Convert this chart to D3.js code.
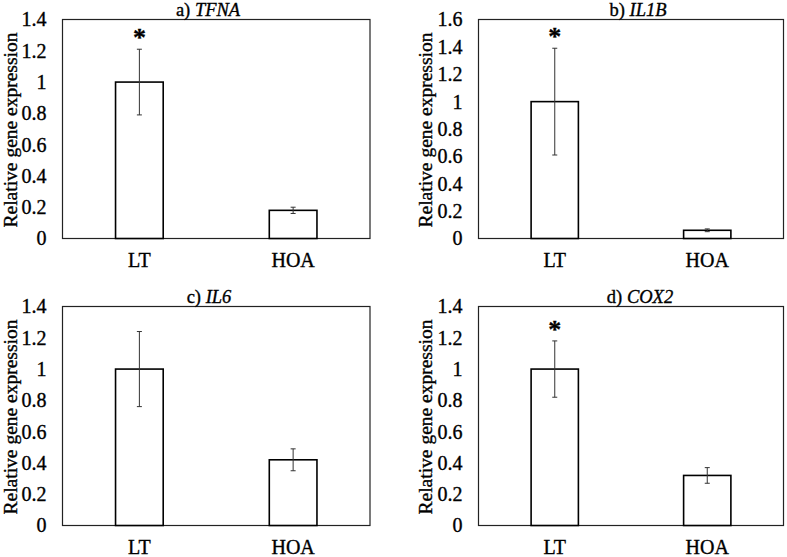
<!DOCTYPE html>
<html>
<head>
<meta charset="utf-8">
<script src="https://cdn.jsdelivr.net/npm/d3@7"></script>
<style>
  html, body { margin: 0; padding: 0; background: #fff; }
  svg { display: block; }
  svg text { font-family: "Liberation Serif", "Times New Roman", Times, "DejaVu Serif", serif; fill: #000; stroke: #000; stroke-width: 0.35px; }
</style>
</head>
<body>
<svg id="chart" width="787" height="557"></svg>
<script>
// ---- Data ----
const categories = ["LT", "HOA"];
const panelLetters = ["a)", "b)", "c)", "d)"];
const geneNames = ["TFNA", "IL1B", "IL6", "COX2"];
const tfnaMeans = [1, 0.18];
const tfnaErrors = [0.21, 0.02];
const il1bMeans = [1, 0.06];
const il1bErrors = [0.39, 0.01];
const il6Means = [1, 0.42];
const il6Errors = [0.24, 0.07];
const cox2Means = [1, 0.32];
const cox2Errors = [0.18, 0.05];
const yMaxes = [1.4, 1.6, 1.4, 1.4];
const ticks14 = [0, 0.2, 0.4, 0.6, 0.8, 1, 1.2, 1.4];
const ticks16 = [0, 0.2, 0.4, 0.6, 0.8, 1, 1.2, 1.4, 1.6];
const significant = [[true, false], [true, false], [false, false], [true, false]];
const yAxisTitle = "Relative gene expression";

const panelMeans = [tfnaMeans, il1bMeans, il6Means, cox2Means];
const panelErrors = [tfnaErrors, il1bErrors, il6Errors, cox2Errors];
const panelTicks = [ticks14, ticks16, ticks14, ticks14];

// ---- Layout ----
const frames = [
  { x0: 62.5, x1: 370, y0: 19.5, y1: 238.5, titleX: 208, yTitleX: 10 },
  { x0: 478.5, x1: 783.5, y0: 19.5, y1: 238.5, titleX: 638, yTitleX: 425 },
  { x0: 62.5, x1: 370, y0: 306.5, y1: 525.5, titleX: 209, yTitleX: 10 },
  { x0: 478.5, x1: 783.5, y0: 306.5, y1: 525.5, titleX: 640, yTitleX: 425 }
];

const svg = d3.select("#chart");
const fontSize = 20;
const serif = '"Liberation Serif", "Times New Roman", Times, "DejaVu Serif", serif';

frames.forEach((f, i) => {
  const g = svg.append("g");
  const x = d3.scaleBand().domain(categories).range([f.x0, f.x1]).paddingInner(0.69).paddingOuter(0.345);
  const y = d3.scaleLinear().domain([0, yMaxes[i]]).range([f.y1, f.y0]);

  const data = categories.map((c, k) => ({ c, v: panelMeans[i][k], e: panelErrors[i][k], s: significant[i][k] }));

  // frame
  g.append("rect")
    .attr("x", f.x0).attr("y", f.y0)
    .attr("width", f.x1 - f.x0).attr("height", f.y1 - f.y0)
    .attr("fill", "none").attr("stroke", "#222").attr("stroke-width", 1.2);

  // bars
  g.selectAll("rect.bar").data(data).enter().append("rect")
    .attr("class", "bar")
    .attr("x", d => x(d.c))
    .attr("y", d => y(d.v))
    .attr("width", x.bandwidth())
    .attr("height", d => y(0) - y(d.v))
    .attr("fill", "#fff").attr("stroke", "#000").attr("stroke-width", 1.6);

  // error bars
  const eg = g.selectAll("g.err").data(data).enter().append("g").attr("class", "err");
  const cx = d => x(d.c) + x.bandwidth() / 2;
  eg.append("line")
    .attr("x1", cx).attr("x2", cx)
    .attr("y1", d => y(d.v + d.e)).attr("y2", d => y(d.v - d.e))
    .attr("stroke", "#333").attr("stroke-width", 1);
  eg.append("line")
    .attr("x1", d => cx(d) - 2.5).attr("x2", d => cx(d) + 2.5)
    .attr("y1", d => y(d.v + d.e)).attr("y2", d => y(d.v + d.e))
    .attr("stroke", "#333").attr("stroke-width", 1);
  eg.append("line")
    .attr("x1", d => cx(d) - 2.5).attr("x2", d => cx(d) + 2.5)
    .attr("y1", d => y(d.v - d.e)).attr("y2", d => y(d.v - d.e))
    .attr("stroke", "#333").attr("stroke-width", 1);

  // significance asterisks
  g.selectAll("text.sig").data(data.filter(d => d.s)).enter().append("text")
    .attr("class", "sig")
    .attr("x", cx)
    .attr("y", d => y(d.v + d.e) - 3)
    .attr("text-anchor", "middle")
    .attr("font-size", 26).attr("font-weight", "bold")
    .text("*");

  // y axis
  const yAxis = d3.axisLeft(y).tickValues(panelTicks[i]).tickSize(0).tickPadding(16)
    .tickFormat(d3.format("~g"));
  const ya = g.append("g").attr("transform", `translate(${f.x0},0)`).call(yAxis)
    .attr("font-family", serif);
  ya.select(".domain").remove();
  ya.selectAll("text").attr("font-size", fontSize).attr("fill", "#000");

  // x axis
  const xAxis = d3.axisBottom(x).tickSize(0).tickPadding(14);
  const xa = g.append("g").attr("transform", `translate(0,${f.y1})`).call(xAxis)
    .attr("font-family", serif);
  xa.select(".domain").remove();
  xa.selectAll("text").attr("font-size", fontSize).attr("fill", "#000");

  // y title
  g.append("text")
    .attr("transform", `translate(${f.yTitleX + 6.5},${(f.y0 + f.y1) / 2 + 1}) rotate(-90)`)
    .attr("text-anchor", "middle")
    .attr("font-size", 19.5)
    .text(yAxisTitle);

  // panel title
  const t = g.append("text")
    .attr("x", f.titleX).attr("y", f.y0 - 3.5)
    .attr("text-anchor", "middle")
    .attr("font-size", 18.5);
  t.append("tspan").text(panelLetters[i] + " ");
  t.append("tspan").attr("font-style", "italic").text(geneNames[i]);
});
</script>
</body>
</html>
